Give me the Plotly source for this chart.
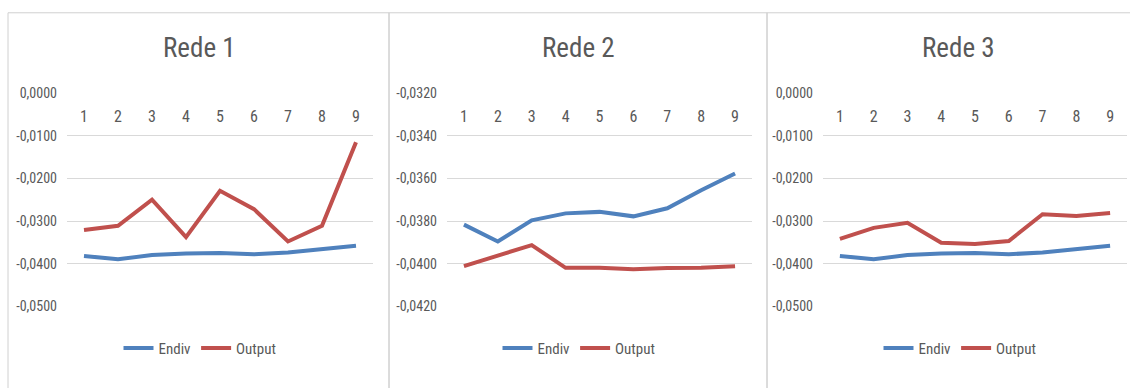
import plotly.graph_objects as go

categories = [1, 2, 3, 4, 5, 6, 7, 8, 9]
panel_titles = ["Rede 1", "Rede 2", "Rede 3"]
series_names = ["Endiv", "Output"]

endiv_rede1 = [-0.0382, -0.0390, -0.0380, -0.0376, -0.0375, -0.0378, -0.0374, -0.0366, -0.0358]
output_rede1 = [-0.0321, -0.0311, -0.0250, -0.0338, -0.0229, -0.0272, -0.0348, -0.0311, -0.0115]

endiv_rede2 = [-0.03817, -0.03896, -0.03797, -0.03764, -0.03757, -0.03778, -0.03740, -0.03655, -0.03577]
output_rede2 = [-0.04012, -0.03962, -0.03913, -0.04020, -0.04020, -0.04027, -0.04021, -0.04020, -0.04012]

endiv_rede3 = [-0.0382, -0.0390, -0.0380, -0.0376, -0.0375, -0.0378, -0.0374, -0.0366, -0.0358]
output_rede3 = [-0.0342, -0.0316, -0.0304, -0.0351, -0.0354, -0.0347, -0.0284, -0.0288, -0.0281]

y_ticks_rede1 = [0.0, -0.01, -0.02, -0.03, -0.04, -0.05]
y_ticks_rede2 = [-0.032, -0.034, -0.036, -0.038, -0.040, -0.042]
y_ticks_rede3 = [0.0, -0.01, -0.02, -0.03, -0.04, -0.05]

W, H = 1130, 388
FONT = "Roboto Condensed, DejaVu Sans Condensed, sans-serif"
GRAY = "#595959"
BLUE = "#4F81BD"
RED = "#C0504D"

# pixel layout
panels = [(8, 389), (389, 767), (767, 1140)]
title_x = [199, 578, 958]
legend_x = [200, 579, 960]
plot_x = [(67, 373), (447, 752), (823, 1127)]
plot_top, plot_bot = 89, 311

data = [(endiv_rede1, output_rede1), (endiv_rede2, output_rede2), (endiv_rede3, output_rede3)]
yticks = [y_ticks_rede1, y_ticks_rede2, y_ticks_rede3]


def fmt(v):
    s = f"{v:.4f}".replace(".", ",")
    if s.startswith("-0,0000"):
        s = "0,0000"
    return s


fig = go.Figure()
layout = dict(
    width=W, height=H,
    margin=dict(l=0, r=0, t=0, b=0),
    paper_bgcolor="white", plot_bgcolor="white",
    font=dict(family=FONT, color=GRAY, size=14),
    showlegend=True,
    shapes=[], annotations=[],
)

for i in range(3):
    n = "" if i == 0 else str(i + 1)
    xa, ya = "x" + n, "y" + n
    endiv, output = data[i]
    leg = "legend" if i == 0 else "legend" + str(i + 1)
    fig.add_trace(go.Scatter(x=categories, y=endiv, mode="lines", name=series_names[0],
                             line=dict(color=BLUE, width=4), xaxis=xa, yaxis=ya, legend=leg))
    fig.add_trace(go.Scatter(x=categories, y=output, mode="lines", name=series_names[1],
                             line=dict(color=RED, width=4), xaxis=xa, yaxis=ya, legend=leg))
    x0, x1 = plot_x[i]
    ydom = [1 - plot_bot / H, 1 - plot_top / H]
    tv = yticks[i]
    layout["xaxis" + n] = dict(
        domain=[x0 / W, x1 / W], range=[0.5, 9.5], anchor="free", position=ydom[1],
        side="bottom", showgrid=False, zeroline=False, showline=False,
        tickmode="array", tickvals=categories, ticktext=[str(c) for c in categories],
        ticks="", ticklabelstandoff=12, tickfont=dict(size=16, color=GRAY, family=FONT),
    )
    layout["yaxis" + n] = dict(
        domain=ydom, range=[min(tv), max(tv)],
        tickmode="array", tickvals=tv, ticktext=[fmt(v) for v in tv],
        anchor=xa, showgrid=True, gridcolor="#D9D9D9", gridwidth=1,
        zeroline=False, showline=False, ticks="", ticklabelstandoff=9,
        tickfont=dict(size=14, color=GRAY, family=FONT),
    )
    px0, px1 = panels[i]
    layout["shapes"].append(dict(type="rect", xref="paper", yref="paper",
                                 x0=px0 / W, x1=px1 / W, y0=-0.2, y1=1 - 5 / H,
                                 line=dict(color="#D0D0D0", width=1), layer="below"))
    layout["annotations"].append(dict(text=panel_titles[i], xref="paper", yref="paper",
                                      x=title_x[i] / W, y=1 - 42 / H,
                                      xanchor="center", yanchor="middle",
                                      showarrow=False, font=dict(size=27, color=GRAY, family=FONT)))
    layout[leg] = dict(orientation="h", x=legend_x[i] / W, xanchor="center",
                       y=1 - 355 / H, yanchor="middle", bgcolor="rgba(0,0,0,0)",
                       font=dict(size=15, color=GRAY, family=FONT), itemclick=False)

fig.update_layout(**layout)
fig.write_html("out.html")
